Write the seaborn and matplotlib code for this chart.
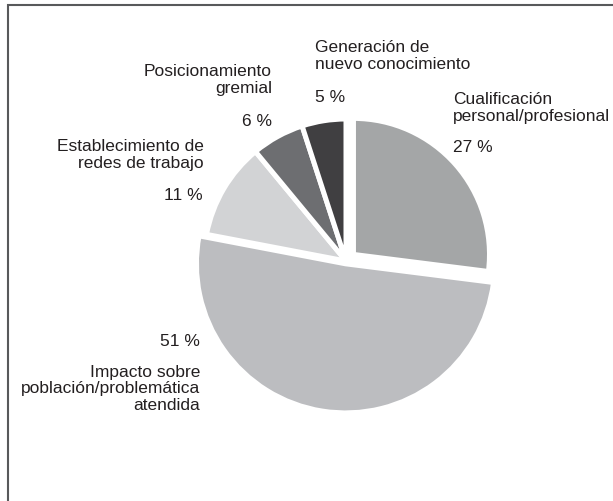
import matplotlib
matplotlib.use("Agg")
import matplotlib.pyplot as plt
import seaborn as sns

# ----- chart data -----
categories = ["Cualificación\npersonal/profesional",
              "Impacto sobre\npoblación/problemática\natendida",
              "Establecimiento de\nredes de trabajo",
              "Posicionamiento\ngremial",
              "Generación de\nnuevo conocimiento"]
values = [27, 51, 11, 6, 5]
pct_labels = ["27 %", "51 %", "11 %", "6 %", "5 %"]
gray_hex = ["#a4a6a7", "#bcbdc0", "#d2d3d5", "#6d6e71", "#403f41"]
# ----------------------

W, H = 613, 502  # canvas in pixels, axes use pixel units (y up)
R = 142          # pie radius in pixels


def py(y):
    # convert a top-down pixel row to data y
    return H - y


sns.set_theme(style="white")
plt.rcParams["font.family"] = ["Liberation Sans", "DejaVu Sans"]
text_color = "#231f20"

fig = plt.figure(figsize=(W / 100, H / 100), dpi=100)
ax = fig.add_axes([0, 0, 1, 1])

palette = sns.color_palette(gray_hex)
# explode is in data units, so scale it by the radius
explode = [f * R for f in (0.07, 0.02, 0, 0, 0)]
wedges, _ = ax.pie(values, colors=palette, startangle=90, counterclock=False,
                   explode=explode, radius=R, center=(346, py(262)),
                   wedgeprops=dict(edgecolor="white", linewidth=3.6),
                   frame=False)
# the big and the 27 % slices are drawn at slightly different sizes in the original
wedges[0].set_radius(R * 0.958)
wedges[1].set_radius(R * 1.05)

ax.set_xlim(0, W)
ax.set_ylim(0, H)
ax.set_aspect("equal")
ax.axis("off")

fs = 12.5
txt = dict(fontsize=fs, color=text_color, linespacing=1.1)

# Cualificación
ax.text(453, py(108), categories[0], ha="left", va="center", **txt)
ax.text(453, py(148), pct_labels[0], ha="left", va="center", **txt)
# Impacto
ax.text(200, py(342), pct_labels[1], ha="right", va="center", **txt)
ax.text(200, py(389), categories[1], ha="right", va="center", multialignment="right", **txt)
# Establecimiento
ax.text(204, py(155), categories[2], ha="right", va="center", multialignment="right", **txt)
ax.text(203, py(195), pct_labels[2], ha="right", va="center", **txt)
# Posicionamiento
ax.text(272, py(80), categories[3], ha="right", va="center", multialignment="right", **txt)
ax.text(272, py(122), pct_labels[3], ha="right", va="center", **txt)
# Generación
ax.text(315, py(56), categories[4], ha="left", va="center", **txt)
ax.text(315, py(98), pct_labels[4], ha="left", va="center", **txt)

# frame (only top and left edges are visible in the original crop)
ax.plot([8, 8, W], [0, py(6), py(6)], color="#58595b", lw=1.5,
        solid_joinstyle="miter", clip_on=False)

fig.savefig("out.png", dpi=100, facecolor="white")
